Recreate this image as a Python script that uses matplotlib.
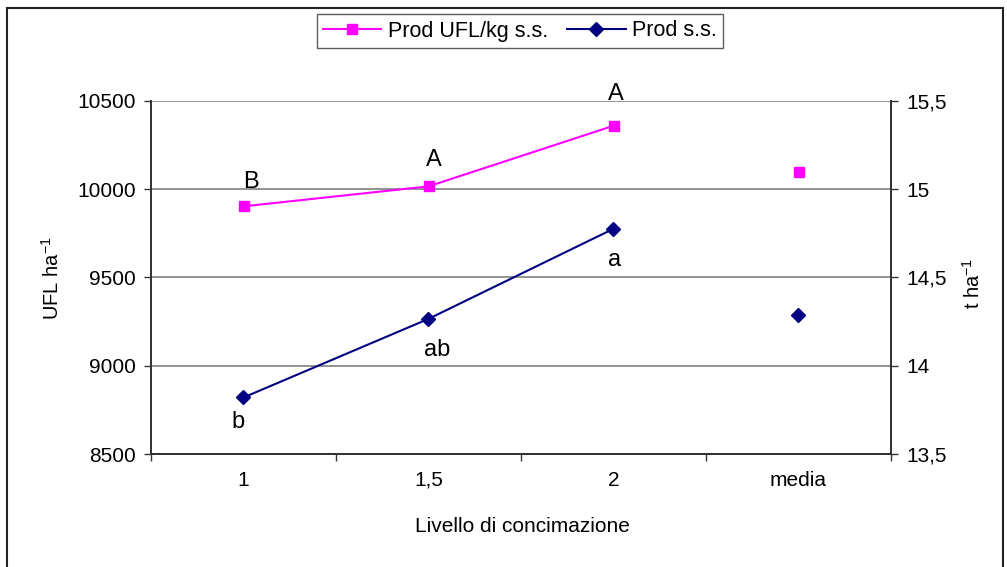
import matplotlib
matplotlib.use("Agg")
import matplotlib.pyplot as plt
from matplotlib.patches import Rectangle
import numpy as np

plt.rcParams['font.family'] = ['Liberation Sans', 'DejaVu Sans']
plt.rcParams['mathtext.fontset'] = 'custom'
plt.rcParams['mathtext.rm'] = 'Liberation Sans'
plt.rcParams['mathtext.it'] = 'Liberation Sans'

# Data
categories = ['1', '1,5', '2', 'media']
ufl_values = [9902, 10015, 10358, 10098]        # UFL ha-1 (left axis)
ss_values = [13.82, 14.265, 14.775, 14.285]      # t ha-1 (right axis)
ufl_letters = ['B', 'A', 'A']
ss_letters = ['b', 'ab', 'a']
left_ticks = [8500, 9000, 9500, 10000, 10500]
right_ticks = [13.5, 14.0, 14.5, 15.0, 15.5]
right_ticklabels = ['13,5', '14', '14,5', '15', '15,5']

PINK = '#FF00FF'
NAVY = '#000080'

W, H = 1007, 567
fig = plt.figure(figsize=(W / 100, H / 100), dpi=100)
fig.patch.set_facecolor('white')

x0, x1, ytop, ybot = 151, 891, 100.7, 454
ax = fig.add_axes([x0 / W, 1 - ybot / H, (x1 - x0) / W, (ybot - ytop) / H])
ax2 = ax.twinx()

x = np.arange(len(categories))

# Left axis series (connected over the levels, isolated point for the mean)
ln1, = ax.plot(x[:3], ufl_values[:3], color=PINK, lw=1.5, marker='s',
               markersize=7, markeredgecolor=PINK, zorder=5,
               label='Prod UFL/kg s.s.')
ax.plot(x[3:], ufl_values[3:], linestyle='none', marker='s', markersize=7,
        color=PINK, zorder=5)

# Right axis series
ln2, = ax2.plot(x[:3], ss_values[:3], color=NAVY, lw=1.5, marker='D',
                markersize=7, zorder=5, label='Prod s.s.')
ax2.plot(x[3:], ss_values[3:], linestyle='none', marker='D', markersize=7,
         color=NAVY, zorder=5)

# Limits and ticks
ax.set_xlim(-0.5, len(categories) - 0.5)
ax.set_ylim(left_ticks[0], left_ticks[-1])
ax2.set_ylim(right_ticks[0], right_ticks[-1])

ax.set_yticks(left_ticks)
ax.set_yticklabels([str(v) for v in left_ticks])
ax2.set_yticks(right_ticks)
ax2.set_yticklabels(right_ticklabels)

ax.set_xticks(np.arange(-0.5, len(categories), 1.0))
ax.set_xticklabels([])
ax.set_xticks(x, minor=True)
ax.set_xticklabels(categories, minor=True)
ax.tick_params(axis='x', which='major', direction='out', length=5, width=1,
               color='#333333')
ax.tick_params(axis='x', which='minor', length=0, labelsize=15, pad=12)
ax.tick_params(axis='y', direction='out', length=5, width=1,
               color='#333333', labelsize=15, pad=6)
ax2.tick_params(axis='y', direction='out', length=5, width=1,
                color='#333333', labelsize=15, pad=6)

ax.yaxis.grid(True, color='#808080', lw=1.2)
ax.set_axisbelow(True)

for a in (ax, ax2):
    a.spines['top'].set_visible(False)
    for s in ('left', 'right', 'bottom'):
        a.spines[s].set_color('#333333')
        a.spines[s].set_linewidth(1.3)
    a.set_facecolor('none')

# Significance letters
ufl_offsets = [(7, 24), (5, 26), (2, 32)]
ss_offsets = [(-5, -25), (9, -31), (1, -31)]
for xi, v, t, off in zip(x, ufl_values, ufl_letters, ufl_offsets):
    ax.annotate(t, (xi, v), xytext=off, textcoords='offset pixels',
                ha='center', va='center', fontsize=17, annotation_clip=False)
for xi, v, t, off in zip(x, ss_values, ss_letters, ss_offsets):
    ax2.annotate(t, (xi, v), xytext=off, textcoords='offset pixels',
                 ha='center', va='center', fontsize=17, annotation_clip=False)

# Axis titles
fig.text(522 / W, 1 - 526 / H, 'Livello di concimazione',
         ha='center', va='center', fontsize=15)
fig.text(52 / W, 1 - 278 / H, 'UFL ha$^{-1}$', rotation=90,
         ha='center', va='center', fontsize=14.5)
fig.text(973 / W, 1 - 283 / H, 't ha$^{-1}$', rotation=90,
         ha='center', va='center', fontsize=14.5)

# Legend
leg = fig.legend(handles=[ln1, ln2], loc='center',
                 bbox_to_anchor=(520 / W, 1 - 31 / H), ncol=2, fontsize=15.5,
                 frameon=True, fancybox=False, edgecolor='#333333',
                 handlelength=2.7, handletextpad=0.3, columnspacing=0.9,
                 borderpad=0.3, borderaxespad=0)
leg.get_frame().set_linewidth(1.0)

# Chart border (bottom edge falls outside the canvas)
fig.patches.append(Rectangle((7 / W, -0.02), (1003 - 7) / W, 1.02 - 8 / H,
                             transform=fig.transFigure, fill=False,
                             edgecolor='#222222', lw=1.5))

fig.savefig('out.png', dpi=100, facecolor='white')
